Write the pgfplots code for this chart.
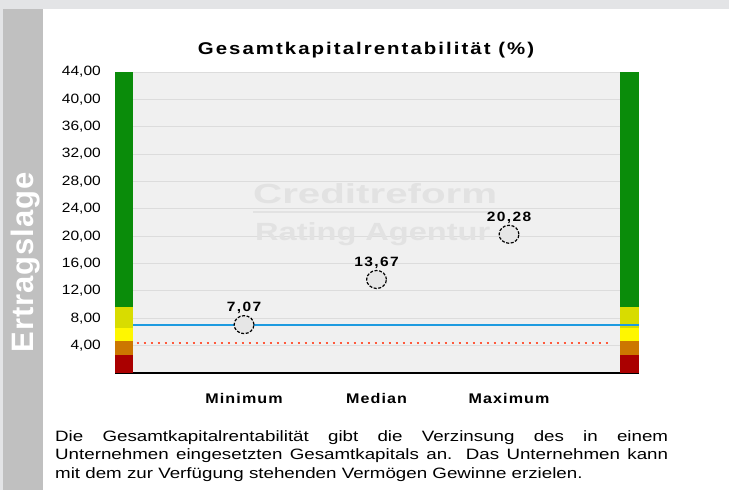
\documentclass[border=0pt]{standalone}
\usepackage{pgfplots}
\pgfplotsset{compat=1.18}
\usepackage{fontspec}
\setmainfont{Liberation Sans}
\newfontfamily\parafont{Liberation Sans}[FakeStretch=1.25]
\newfontfamily\tickfont{Liberation Sans}[FakeStretch=1.15]
\newfontfamily\titlefont{Liberation Sans}[FakeStretch=1.2, LetterSpace=12]
\newfontfamily\xlabfont{Liberation Sans}[FakeStretch=1.15, LetterSpace=8]
\newfontfamily\ptfont{Liberation Sans}[FakeStretch=1.15, LetterSpace=10]
\newfontfamily\bandfont{Liberation Sans}[LetterSpace=3]

\definecolor{topstrip}{HTML}{E3E4E6}
\definecolor{band}{HTML}{C0C0C0}
\definecolor{plotbg}{HTML}{F0F0F0}
\definecolor{gridc}{HTML}{DCDCDC}
\definecolor{cgreen}{HTML}{0A8C0A}
\definecolor{colive}{HTML}{D8DC00}
\definecolor{cyellow}{HTML}{FFF700}
\definecolor{corange}{HTML}{CC7700}
\definecolor{cred}{HTML}{AA0000}
\definecolor{cblue}{HTML}{1E9BE0}
\definecolor{cdot}{HTML}{FF5A3C}
\definecolor{wm}{HTML}{E2E2E2}
\definecolor{circfill}{HTML}{E6E6E6}

\begin{document}
\begin{tikzpicture}[x=1pt,y=1pt]
\fill[white] (0,0) rectangle (729,-490);
\fill[topstrip] (0,0) rectangle (729,-9);
\fill[topstrip] (0,-9) rectangle (3,-490);
\fill[band] (3,-9) rectangle (43,-490);
\node[rotate=90, anchor=base west, inner sep=0pt, text=white,
      font=\bandfont\fontsize{31}{31}\selectfont\bfseries] at (33,-352.7) {Ertragslage};

\begin{axis}[
  at={(115pt,-373pt)}, anchor=south west,
  scale only axis, width=524pt, height=301pt,
  xmin=0.026, xmax=3.981, ymin=0, ymax=44,
  enlargelimits=false,
  axis x line*=bottom, axis y line*=left,
  x axis line style={black, line width=1.5pt},
  y axis line style={draw=none},
  axis background/.style={fill=plotbg},
  ytick={4,8,...,44},
  xtick={1,2,3},
  xticklabels={Minimum,Median,Maximum},
  major tick length=0pt,
  ymajorgrids, grid style={gridc, line width=1pt},
  /pgf/number format/.cd, fixed, fixed zerofill, precision=2, use comma, assume math mode=true,
  /pgfplots/.cd,
  yticklabel style={font=\tickfont\fontsize{13.5}{13.5}\selectfont, anchor=east, inner sep=0pt, xshift=-14pt},
  xticklabel style={font=\xlabfont\fontsize{14}{14}\selectfont\bfseries, anchor=base, inner sep=0pt, yshift=-30pt},
]
% watermark
\node[anchor=base west, inner sep=0pt, text=wm] at (axis cs:1.0676,24.85) {\resizebox{244pt}{20pt}{\bfseries Creditreform}};
\fill[wm] (axis cs:1.0676,23.46) rectangle (axis cs:2.9092,23.68);
\node[anchor=base west, inner sep=0pt, text=wm] at (axis cs:1.0827,19.30) {\resizebox{235pt}{18pt}{\bfseries Rating Agentur}};

% right colour bar
\addplot[draw=none, fill=cred] coordinates {(3.838,0) (3.981,0) (3.981,2.6) (3.838,2.6)} -- cycle;
\addplot[draw=none, fill=corange] coordinates {(3.838,2.6) (3.981,2.6) (3.981,4.7) (3.838,4.7)} -- cycle;
\addplot[draw=none, fill=cyellow] coordinates {(3.838,4.7) (3.981,4.7) (3.981,6.6) (3.838,6.6)} -- cycle;
\addplot[draw=none, fill=colive] coordinates {(3.838,6.6) (3.981,6.6) (3.981,9.6) (3.838,9.6)} -- cycle;
\addplot[draw=none, fill=cgreen] coordinates {(3.838,9.6) (3.981,9.6) (3.981,44) (3.838,44)} -- cycle;

% reference lines
\addplot[cblue, line width=1.8pt] coordinates {(0.026,7.07) (3.981,7.07)};
\addplot[cdot, line width=2pt, dash pattern=on 2.5pt off 4.5pt] coordinates {(0.19,4.36) (3.76,4.36)};

% left colour bar
\addplot[draw=none, fill=cred] coordinates {(0.026,0) (0.162,0) (0.162,2.6) (0.026,2.6)} -- cycle;
\addplot[draw=none, fill=corange] coordinates {(0.026,2.6) (0.162,2.6) (0.162,4.7) (0.026,4.7)} -- cycle;
\addplot[draw=none, fill=cyellow] coordinates {(0.026,4.7) (0.162,4.7) (0.162,6.6) (0.026,6.6)} -- cycle;
\addplot[draw=none, fill=colive] coordinates {(0.026,6.6) (0.162,6.6) (0.162,9.6) (0.026,9.6)} -- cycle;
\addplot[draw=none, fill=cgreen] coordinates {(0.026,9.6) (0.162,9.6) (0.162,44) (0.026,44)} -- cycle;

% points
\addplot[only marks, mark=*, mark size=9pt,
  mark options={draw=black, fill=circfill, line width=1.2pt, dash pattern=on 3pt off 1.6pt, xscale=1.1},
  nodes near coords,
  every node near coord/.append style={font=\ptfont\fontsize{13.5}{13.5}\selectfont\bfseries, text=black, inner sep=0pt, yshift=10.5pt}]
  coordinates {(1,7.07) (2,13.67) (3,20.28)};
\end{axis}

\node[anchor=base, inner sep=0pt] at (366,-54.5) {\titlefont\fontsize{17}{17}\selectfont\bfseries Gesamtkapitalrentabilität (\%)};

\node[anchor=base west, inner sep=0pt] at (55,-441) {\parbox[t]{613pt}{\parafont\fontsize{15}{18.5}\selectfont
\makebox[613pt][s]{Die Gesamtkapitalrentabilität gibt die Verzinsung des in einem}\\
\makebox[613pt][s]{Unternehmen eingesetzten Gesamtkapitals an. Das Unternehmen kann}\\
mit dem zur Verfügung stehenden Vermögen Gewinne erzielen.}};
\end{tikzpicture}
\end{document}
